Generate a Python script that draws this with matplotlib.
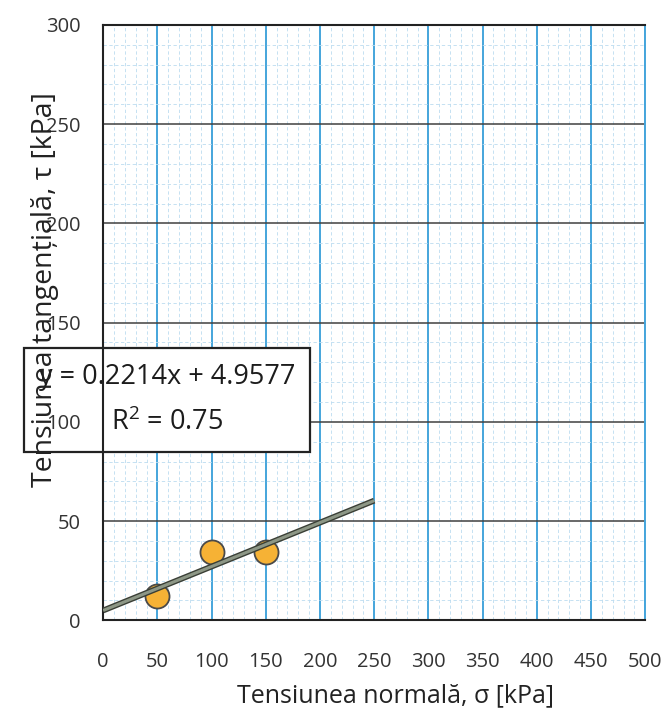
import numpy as np
import matplotlib
matplotlib.use("Agg")
import matplotlib.pyplot as plt
from matplotlib.ticker import MultipleLocator

plt.rcParams['font.family'] = ['Open Sans', 'DejaVu Sans']

# Date
sigma = np.array([50, 100, 150])            # tensiunea normala [kPa]
tau = np.array([12.34, 34.473, 34.48])      # tensiunea tangentiala [kPa]
x_ticks = [0, 50, 100, 150, 200, 250, 300, 350, 400, 450, 500]
y_ticks = [0, 50, 100, 150, 200, 250, 300]
x_linie = np.array([0, 250])                # domeniul dreptei de regresie

# Regresie liniara
coef = np.polyfit(sigma, tau, 1)
dreapta = np.poly1d(coef)
r2 = 1 - np.sum((tau - dreapta(sigma)) ** 2) / np.sum((tau - tau.mean()) ** 2)

fig = plt.figure(figsize=(6.7, 7.13), dpi=100)
rect = [0.154, 0.130, 0.809, 0.835]

# fundal: hartia milimetrica
gax = fig.add_axes(rect, zorder=0)
gax.set_xlim(0, 500)
gax.set_ylim(0, 300)
gax.xaxis.set_major_locator(MultipleLocator(50))
gax.yaxis.set_major_locator(MultipleLocator(50))
gax.xaxis.set_minor_locator(MultipleLocator(10))
gax.yaxis.set_minor_locator(MultipleLocator(10))
gax.grid(which='minor', color='#bcdcf0', lw=0.6, ls=(0, (4, 3)))
gax.grid(which='major', axis='x', color='#45a5dc', lw=1.4)
gax.grid(which='major', axis='y', color='#404040', lw=1.1)
gax.tick_params(which='both', length=0, labelbottom=False, labelleft=False)
for s in gax.spines.values():
    s.set_visible(False)

# graficul propriu-zis
ax = fig.add_axes(rect, zorder=1)
ax.set_facecolor('none')
ax.set_xlim(0, 500)
ax.set_ylim(0, 300)
ax.set_xticks(x_ticks)
ax.set_yticks(y_ticks)
ax.tick_params(length=0, labelsize=14.5, colors='#333333')
ax.tick_params(axis='x', pad=23)
ax.tick_params(axis='y', pad=16)
for s in ['left', 'bottom', 'top']:
    ax.spines[s].set_color('#222222')
    ax.spines[s].set_linewidth(1.5)
ax.spines['right'].set_color('#45a5dc')
ax.spines['right'].set_linewidth(1.4)

ax.scatter(sigma, tau, s=300, color='#f6b235', edgecolor='#4a4a4a', linewidth=1.3, zorder=3)
ax.plot(x_linie, dreapta(x_linie), color='#3a3f36', lw=4.2, solid_capstyle='butt', zorder=4)
ax.plot(x_linie, dreapta(x_linie), color='#8d9786', lw=2.2, solid_capstyle='butt', zorder=5)

ax.text(59, 111, f"y = {coef[0]:.4f}x + {coef[1]:.4f}\n$\\mathregular{{R^2}}$ = {r2:.2f}",
        ha='center', va='center', fontsize=19.5, color='#1c1c1c', linespacing=1.8, zorder=1,
        bbox=dict(boxstyle='square,pad=0.55', facecolor='white', edgecolor='#222222', linewidth=1.6))

ax.set_xlabel("Tensiunea normală, σ [kPa]", fontsize=18, color='#222222')
ax.set_ylabel("Tensiunea tangențială, τ [kPa]", fontsize=20.5, color='#222222')
ax.xaxis.set_label_coords(0.54, -0.105)
ax.yaxis.set_label_coords(-0.082, 0.555)

fig.savefig("out.png", dpi=100)
